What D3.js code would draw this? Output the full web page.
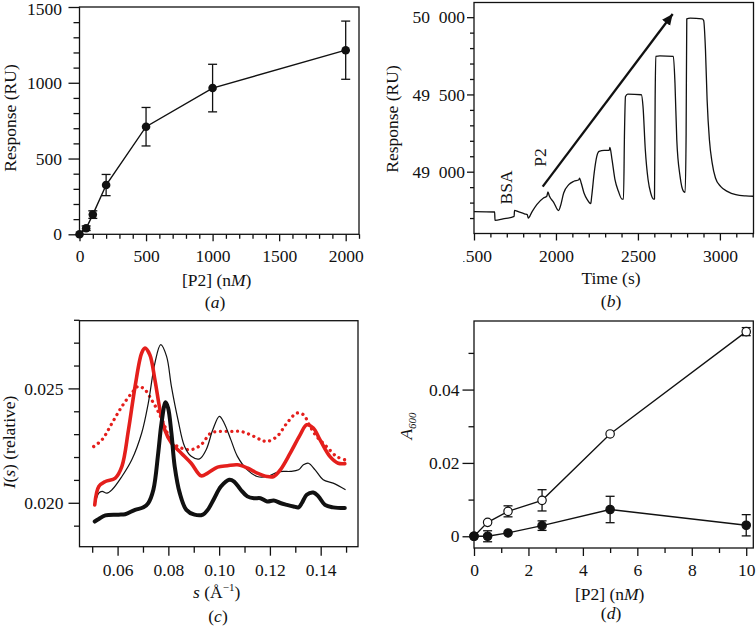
<!DOCTYPE html>
<html><head><meta charset="utf-8">
<script src="https://cdn.jsdelivr.net/npm/d3@7"></script>
<style>
body{margin:0;background:#fff;}
svg text{font-family:"Liberation Serif","Times New Roman",serif;font-size:17.5px;fill:#111;}
</style></head><body>
<script>
// ---------- Panel (a) ----------
const aConc = [0, 50, 100, 200, 500, 1000, 2000];
const aResp = [0, 40, 130, 325, 710, 965, 1215];
const aErr  = [0, 15, 25, 70, 127, 157, 192];
const aYMajor = [0, 500, 1000, 1500];
const aXMajor = [0, 500, 1000, 1500, 2000];

// ---------- Panel (b) ----------
const bTime = [1500,1626,1628,1677,1745,1747,1770,1811,1825,1831,1852,1883,1924,1944,1951,1959,1986,2016,2027,2047,2078,2109,2140,2144,2154,2171,2191,2212,2218,2233,2249,2263,2294,2325,2329,2342,2360,2381,2403,2412,2418,2424,2438,2521,2531,2545,2562,2578,2595,2601,2605,2609,2634,2716,2726,2737,2757,2778,2788,2794,2798,2819,2891,2901,2912,2922,2936,2953,2973,3004,3045,3097,3158,3205];
const bResp = [48741,48739,48685,48694,48711,48750,48741,48726,48722,48700,48737,48787,48830,48841,48869,48845,48802,48748,48776,48862,48916,48938,48948,48959,48927,48862,48819,48793,48841,48991,49099,49131,49138,49138,49157,49078,48948,48873,48823,48823,49250,49487,49502,49498,49422,49142,48948,48862,48823,48823,49466,49746,49750,49746,49573,49207,48970,48873,48866,49250,49989,49994,49989,49978,49789,49466,49207,49056,48959,48905,48873,48851,48843,48841];
const bArrow = [[1919, 48903], [2712, 50021]];
const bNotes = [{text:"BSA", t:1698, r:48898}, {text:"P2", t:1903, r:49092}];
const bYMajor = [49000, 49500, 50000];
const bXMajor = [1500, 2000, 2500, 3000];

// ---------- Panel (c) ----------
const cBlackThick = [[0.0510,0.01918],[0.0526,0.01929],[0.0552,0.01945],[0.0604,0.01948],[0.0630,0.01950],[0.0669,0.01969],[0.0702,0.01980],[0.0721,0.01999],[0.0741,0.02057],[0.0760,0.02217],[0.0773,0.02348],[0.0789,0.02439],[0.0799,0.02414],[0.0812,0.02305],[0.0825,0.02159],[0.0845,0.02042],[0.0871,0.01969],[0.0903,0.01948],[0.0936,0.01948],[0.0955,0.01969],[0.0981,0.02020],[0.1007,0.02071],[0.1040,0.02101],[0.1059,0.02093],[0.1085,0.02057],[0.1111,0.02028],[0.1137,0.02020],[0.1163,0.02020],[0.1189,0.02006],[0.1215,0.02010],[0.1241,0.01999],[0.1267,0.01991],[0.1293,0.01984],[0.1313,0.01980],[0.1326,0.01999],[0.1345,0.02035],[0.1371,0.02045],[0.1391,0.02028],[0.1417,0.01991],[0.1449,0.01980],[0.1495,0.01977]];
const cBlackThin = [[0.0510,0.01988],[0.0526,0.02042],[0.0539,0.02050],[0.0558,0.02042],[0.0578,0.02057],[0.0617,0.02115],[0.0656,0.02188],[0.0695,0.02305],[0.0721,0.02436],[0.0747,0.02611],[0.0770,0.02691],[0.0793,0.02640],[0.0812,0.02509],[0.0838,0.02363],[0.0864,0.02246],[0.0890,0.02203],[0.0923,0.02192],[0.0949,0.02232],[0.0975,0.02319],[0.1001,0.02378],[0.1020,0.02348],[0.1046,0.02276],[0.1072,0.02203],[0.1111,0.02144],[0.1150,0.02115],[0.1189,0.02115],[0.1228,0.02133],[0.1254,0.02137],[0.1280,0.02137],[0.1313,0.02144],[0.1332,0.02166],[0.1352,0.02173],[0.1378,0.02144],[0.1410,0.02101],[0.1449,0.02086],[0.1498,0.02057]];
const cRedSolid = [[0.0510,0.01991],[0.0526,0.02071],[0.0552,0.02093],[0.0591,0.02108],[0.0617,0.02159],[0.0643,0.02319],[0.0669,0.02509],[0.0695,0.02655],[0.0708,0.02676],[0.0727,0.02647],[0.0747,0.02538],[0.0767,0.02407],[0.0786,0.02319],[0.0812,0.02261],[0.0851,0.02217],[0.0890,0.02173],[0.0929,0.02118],[0.0955,0.02130],[0.0994,0.02156],[0.1033,0.02162],[0.1072,0.02166],[0.1111,0.02152],[0.1150,0.02130],[0.1189,0.02115],[0.1215,0.02115],[0.1241,0.02144],[0.1280,0.02217],[0.1319,0.02297],[0.1345,0.02341],[0.1371,0.02327],[0.1397,0.02276],[0.1436,0.02203],[0.1469,0.02173],[0.1495,0.02171]];
const cRedDotted = [[0.0506,0.02246],[0.0539,0.02276],[0.0578,0.02348],[0.0617,0.02421],[0.0656,0.02480],[0.0682,0.02509],[0.0708,0.02494],[0.0734,0.02450],[0.0760,0.02399],[0.0786,0.02334],[0.0812,0.02268],[0.0851,0.02239],[0.0890,0.02232],[0.0929,0.02254],[0.0968,0.02305],[0.1007,0.02312],[0.1046,0.02312],[0.1085,0.02312],[0.1124,0.02297],[0.1163,0.02276],[0.1189,0.02268],[0.1228,0.02290],[0.1267,0.02348],[0.1306,0.02392],[0.1332,0.02385],[0.1358,0.02334],[0.1384,0.02290],[0.1423,0.02246],[0.1462,0.02203],[0.1495,0.02188]];
const cYMajor = [0.020, 0.025];
const cYMinor = [0.019, 0.021, 0.022, 0.023, 0.024, 0.026, 0.027, 0.028];
const cXMajor = [0.06, 0.08, 0.10, 0.12, 0.14];
const cXMinor = [0.05, 0.07, 0.09, 0.11, 0.13, 0.15];

// ---------- Panel (d) ----------
const dConc = [0, 0.5, 1.25, 2.5, 5, 10];
const dOpen = [0, 0.0038, 0.0068, 0.0098, 0.0279, 0.0558];
const dOpenErr = [0, 0, 0.0015, 0.0029, 0, 0.0011];
const dFilled = [0, 0, 0.0009, 0.0029, 0.0073, 0.0030];
const dFilledErr = [0, 0.0015, 0, 0.0013, 0.0036, 0.0029];
const dYMajor = [0, 0.02, 0.04];
const dYMinor = [0.01, 0.03, 0.05];
const dXMajor = [0, 2, 4, 6, 8, 10];
const dXMinor = [1, 3, 5, 7, 9];

// ---------- drawing ----------
const INK = "#111";
const RED = "#e41f1c";
const svg = d3.select("body").append("svg").attr("width", 756).attr("height", 626);

function frame(x, y) {
  const [x0, x1] = x.range(), [y0, y1] = y.range();
  svg.append("rect").attr("x", x0).attr("y", y1).attr("width", x1 - x0).attr("height", y0 - y1)
    .attr("fill", "none").attr("stroke", INK).attr("stroke-width", 1.3);
}
function styleAxis(g) {
  g.select(".domain").remove();
  g.selectAll(".tick line").attr("stroke", INK).attr("stroke-width", 1.3);
}
function axes(x, y, o) {
  const yb = y.range()[0], xl = x.range()[0];
  const gx = svg.append("g").attr("transform", `translate(0,${yb})`);
  gx.append("g").call(d3.axisBottom(x).tickValues(o.xMinor).tickSize(o.xMin).tickFormat("")).call(styleAxis);
  const gxm = gx.append("g").call(d3.axisBottom(x).tickValues(o.xMajor).tickSize(o.xMaj).tickPadding(o.xPad).tickFormat(o.xFmt)).call(styleAxis);
  const gy = svg.append("g").attr("transform", `translate(${xl},0)`);
  gy.append("g").call(d3.axisLeft(y).tickValues(o.yMinor).tickSize(o.yMin).tickFormat("")).call(styleAxis);
  const gym = gy.append("g").call(d3.axisLeft(y).tickValues(o.yMajor).tickSize(o.yMaj).tickPadding(o.yPad).tickFormat(o.yFmt)).call(styleAxis);
  return { gxm, gym };
}
function range(a, b, s, skip) { const r = []; for (let i = a; i <= b + 1e-9; i += s) { if (!skip(i)) r.push(i); } return r; }

// ===== Panel (a) =====
{
  const x = d3.scaleLinear().domain([0, 2100]).range([79.5, 359]);
  const y = d3.scaleLinear().domain([0, 1500]).range([234.3, 7]);
  const ax = axes(x, y, {
    xMajor: aXMajor, xMinor: range(100, 2100, 100, v => v % 500 === 0), xMaj: 7, xMin: 4.5, xPad: 8, xFmt: d3.format("d"),
    yMajor: aYMajor, yMinor: range(100, 1400, 100, v => v % 500 === 0), yMaj: 11, yMin: 6, yPad: 6.5, yFmt: d3.format("d")
  });
  ax.gym.selectAll(".tick text").filter(d => d === 1500).attr("dy", "0.42em");
  frame(x, y);
  const pts = aConc.map((c, i) => ({ c, r: aResp[i], e: aErr[i] }));
  svg.append("path").datum(pts).attr("fill", "none").attr("stroke", INK).attr("stroke-width", 1.4)
    .attr("d", d3.line().x(d => x(d.c)).y(d => y(d.r)));
  const eb = svg.append("g").attr("stroke", INK).attr("stroke-width", 1.3);
  pts.filter(d => d.e > 0).forEach(d => {
    eb.append("line").attr("x1", x(d.c)).attr("x2", x(d.c)).attr("y1", y(d.r - d.e)).attr("y2", y(d.r + d.e));
    [d.r - d.e, d.r + d.e].forEach(v => eb.append("line").attr("x1", x(d.c) - 4.5).attr("x2", x(d.c) + 4.5).attr("y1", y(v)).attr("y2", y(v)));
  });
  svg.append("g").selectAll("circle").data(pts).join("circle")
    .attr("cx", d => x(d.c)).attr("cy", d => y(d.r)).attr("r", 4.3).attr("fill", INK);
  svg.append("text").attr("transform", "translate(15.5,118) rotate(-90)").attr("text-anchor", "middle").text("Response (RU)");
  const xl = svg.append("text").attr("x", 216.7).attr("y", 285.7).attr("text-anchor", "middle");
  xl.append("tspan").text("[P2] (n"); xl.append("tspan").attr("font-style", "italic").text("M"); xl.append("tspan").text(")");
  const pl = svg.append("text").attr("x", 215).attr("y", 307.7).attr("text-anchor", "middle");
  pl.append("tspan").text("("); pl.append("tspan").attr("font-style", "italic").text("a"); pl.append("tspan").text(")");
}

// ===== Panel (b) =====
{
  const x = d3.scaleLinear().domain([1500, 3205]).range([474, 753.5]);
  const y = d3.scaleLinear().domain([48600, 50095]).range([233.5, 2.5]);
  const defs = svg.append("defs");
  defs.append("clipPath").attr("id", "bclip").append("rect").attr("x", 463).attr("y", -300).attr("width", 400).attr("height", 1000);
  const m = defs.append("marker").attr("id", "arrowhead").attr("markerUnits", "userSpaceOnUse")
    .attr("markerWidth", 14).attr("markerHeight", 12).attr("refX", 11).attr("refY", 5).attr("orient", "auto");
  m.append("path").attr("d", "M0,0 L11,5 L0,10 Z").attr("fill", INK);
  const ax = axes(x, y, {
    xMajor: bXMajor, xMinor: range(1600, 3200, 100, v => v % 500 === 0), xMaj: 7, xMin: 4, xPad: 8.8, xFmt: d3.format("d"),
    yMajor: bYMajor, yMinor: range(48700, 49900, 100, v => v % 500 === 0), yMaj: 7, yMin: 4, yPad: 2,
    yFmt: d => { const s = String(d); return s.slice(0, 2) + "\u2002" + s.slice(2); }
  });
  ax.gxm.attr("clip-path", "url(#bclip)");
  frame(x, y);
  const pts = bTime.map((t, i) => ({ t, r: bResp[i] }));
  svg.append("path").datum(pts).attr("fill", "none").attr("stroke", INK).attr("stroke-width", 1.3)
    .attr("stroke-linejoin", "round").attr("d", d3.line().x(d => x(d.t)).y(d => y(d.r)).curve(d3.curveMonotoneX));
  svg.append("line").attr("x1", x(bArrow[0][0])).attr("y1", y(bArrow[0][1]))
    .attr("x2", x(bArrow[1][0])).attr("y2", y(bArrow[1][1]))
    .attr("stroke", INK).attr("stroke-width", 2.3).attr("marker-end", "url(#arrowhead)");
  bNotes.forEach(n => {
    svg.append("text").attr("transform", `translate(${x(n.t) + 6},${y(n.r)}) rotate(-90)`)
      .attr("text-anchor", "middle").text(n.text);
  });
  svg.append("text").attr("transform", "translate(397.5,119) rotate(-90)").attr("text-anchor", "middle").text("Response (RU)");
  svg.append("text").attr("x", 611).attr("y", 284.3).attr("text-anchor", "middle").text("Time (s)");
  const pl = svg.append("text").attr("x", 611).attr("y", 307.3).attr("text-anchor", "middle");
  pl.append("tspan").text("("); pl.append("tspan").attr("font-style", "italic").text("b"); pl.append("tspan").text(")");
}

// ===== Panel (c) =====
{
  const x = d3.scaleLinear().domain([0.045, 0.1547]).range([79.5, 358]);
  const y = d3.scaleLinear().domain([0.01808, 0.02796]).range([546.7, 320.7]);
  axes(x, y, {
    xMajor: cXMajor, xMinor: cXMinor, xMaj: 9, xMin: 6, xPad: 7.6, xFmt: d3.format(".2f"),
    yMajor: cYMajor, yMinor: cYMinor, yMaj: 11, yMin: 5.5, yPad: 5, yFmt: d3.format(".3f")
  });
  frame(x, y);
  const line = d3.line().x(d => x(d[0])).y(d => y(d[1])).curve(d3.curveCatmullRom.alpha(0.5));
  svg.append("path").datum(cRedDotted).attr("fill", "none").attr("stroke", RED).attr("stroke-width", 3.3)
    .attr("stroke-linecap", "round").attr("stroke-dasharray", "0.01 5.7").attr("d", line);
  svg.append("path").datum(cBlackThin).attr("fill", "none").attr("stroke", INK).attr("stroke-width", 1.2).attr("d", line);
  svg.append("path").datum(cRedSolid).attr("fill", "none").attr("stroke", RED).attr("stroke-width", 3.6)
    .attr("stroke-linejoin", "round").attr("stroke-linecap", "round").attr("d", line);
  svg.append("path").datum(cBlackThick).attr("fill", "none").attr("stroke", INK).attr("stroke-width", 4)
    .attr("stroke-linejoin", "round").attr("stroke-linecap", "round").attr("d", line);
  const yl = svg.append("text").attr("transform", "translate(15,442) rotate(-90)").attr("text-anchor", "middle");
  yl.append("tspan").attr("font-style", "italic").text("I");
  yl.append("tspan").text("(");
  yl.append("tspan").attr("font-style", "italic").text("s");
  yl.append("tspan").text(") (relative)");
  const xl = svg.append("text").attr("x", 216.7).attr("y", 598.3).attr("text-anchor", "middle");
  xl.append("tspan").attr("font-style", "italic").text("s");
  xl.append("tspan").text(" (Å");
  xl.append("tspan").attr("dy", -7).attr("font-size", "11px").text("\u22121");
  xl.append("tspan").attr("dy", 7).text(")");
  const pl = svg.append("text").attr("x", 218).attr("y", 621.7).attr("text-anchor", "middle");
  pl.append("tspan").text("("); pl.append("tspan").attr("font-style", "italic").text("c"); pl.append("tspan").text(")");
}

// ===== Panel (d) =====
{
  const x = d3.scaleLinear().domain([0, 10.26]).range([474, 753.3]);
  const y = d3.scaleLinear().domain([-0.0032, 0.0587]).range([548, 321]);
  axes(x, y, {
    xMajor: dXMajor, xMinor: dXMinor, xMaj: 8, xMin: 5, xPad: 7.9, xFmt: d3.format("d"),
    yMajor: dYMajor, yMinor: dYMinor, yMaj: 11.5, yMin: 5.5, yPad: 3, yFmt: d => d === 0 ? "0" : d3.format(".2f")(d)
  });
  frame(x, y);
  const series = [
    { v: dOpen, e: dOpenErr, fill: "#fff" },
    { v: dFilled, e: dFilledErr, fill: INK }
  ];
  const line = d3.line().x(d => x(d.c)).y(d => y(d.v));
  series.forEach(s => {
    const pts = dConc.map((c, i) => ({ c, v: s.v[i], e: s.e[i] }));
    svg.append("path").datum(pts).attr("fill", "none").attr("stroke", INK).attr("stroke-width", 1.3).attr("d", line);
    const eb = svg.append("g").attr("stroke", INK).attr("stroke-width", 1.3);
    pts.filter(d => d.e > 0).forEach(d => {
      eb.append("line").attr("x1", x(d.c)).attr("x2", x(d.c)).attr("y1", y(d.v - d.e)).attr("y2", y(d.v + d.e));
      [d.v - d.e, d.v + d.e].forEach(v => eb.append("line").attr("x1", x(d.c) - 4.5).attr("x2", x(d.c) + 4.5).attr("y1", y(v)).attr("y2", y(v)));
    });
    s.pts = pts;
  });
  series.forEach(s => {
    svg.append("g").selectAll("circle").data(s.pts).join("circle")
      .attr("cx", d => x(d.c)).attr("cy", d => y(d.v)).attr("r", 4.2)
      .attr("fill", s.fill).attr("stroke", INK).attr("stroke-width", 1.2);
  });
  const yl = svg.append("text").attr("transform", "translate(412,426) rotate(-90)").attr("text-anchor", "middle");
  yl.append("tspan").attr("font-style", "italic").text("A");
  yl.append("tspan").attr("font-style", "italic").attr("font-size", "11px").attr("dy", 4).text("600");
  const xl = svg.append("text").attr("x", 609.7).attr("y", 600.3).attr("text-anchor", "middle");
  xl.append("tspan").text("[P2] (n"); xl.append("tspan").attr("font-style", "italic").text("M"); xl.append("tspan").text(")");
  const pl = svg.append("text").attr("x", 611).attr("y", 618.7).attr("text-anchor", "middle");
  pl.append("tspan").text("("); pl.append("tspan").attr("font-style", "italic").text("d"); pl.append("tspan").text(")");
}
</script>
</body></html>
